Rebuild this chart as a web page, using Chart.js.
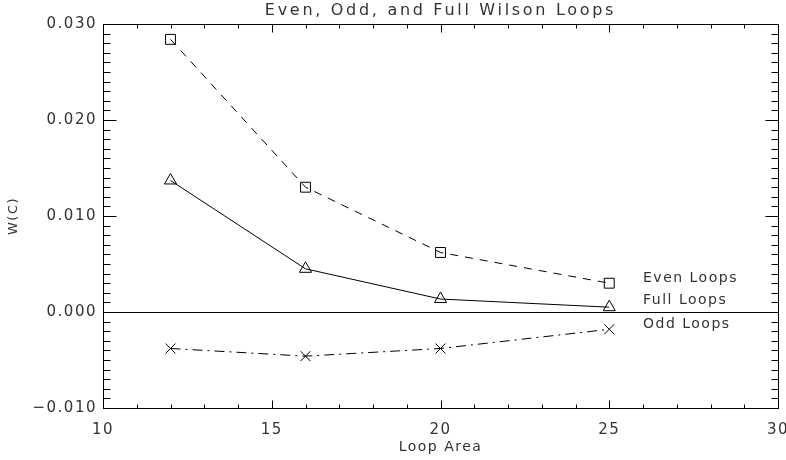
<!DOCTYPE html>
<html>
<head>
<meta charset="utf-8">
<script src="https://cdn.jsdelivr.net/npm/chart.js@4/dist/chart.umd.min.js"></script>
<style>
  html, body { margin: 0; padding: 0; background: #fff; }
  #wrap { width: 786px; height: 460px; }
</style>
</head>
<body>
<div id="wrap"><canvas id="wilson"></canvas></div>
<script>
'use strict';

// loop areas and measured Wilson loop values
var areas = [12, 16, 20, 25];
var evenLoops = [0.0284, 0.0130, 0.0062, 0.0030];
var fullLoops = [0.0137, 0.0045, 0.00135, 0.0005];
var oddLoops = [-0.0038, -0.0046, -0.0038, -0.0018];

var seriesNames = ['Even Loops', 'Full Loops', 'Odd Loops'];
// where the labels sit, in data units
var labelAreas = [26, 26, 26];
var labelValues = [0.00347, 0.00118, -0.00132];

var xTicks = [10, 15, 20, 25, 30];
var yTicks = [-0.010, 0.000, 0.010, 0.020, 0.030];

var chartTitle = 'Even, Odd, and Full Wilson Loops';

var ink = '#333';
var fontName = "'DejaVu Sans', sans-serif";

function pairs(xs, ys) {
	var out = [];
	for (var i = 0; i < xs.length; i++) {
		out.push({x: xs[i], y: ys[i]});
	}
	return out;
}

function isMajor(list, v) {
	for (var i = 0; i < list.length; i++) {
		if (Math.abs(list[i] - v) < 1e-9) return true;
	}
	return false;
}

function spacing(chart) {
	chart.ctx.letterSpacing = '1.5px';
}

// IDL style frame: box, inward ticks on all four sides, zero line, text labels
var idlFrame = {
	id: 'idlFrame',
	beforeInit: spacing,
	beforeUpdate: spacing,
	beforeLayout: spacing,
	beforeDraw: spacing,
	afterDatasetsDraw: function(chart) {
		var ctx = chart.ctx;
		var a = chart.chartArea;
		var xs = chart.scales.x;
		var ys = chart.scales.y;
		var i, p, len;

		ctx.save();
		ctx.strokeStyle = '#000';
		ctx.lineWidth = 1;
		ctx.setLineDash([]);

		var L = Math.round(a.left) + 0.5, R = Math.round(a.right) + 0.5;
		var T = Math.round(a.top) + 0.5, B = Math.round(a.bottom) + 0.5;
		ctx.strokeRect(L, T, R - L, B - T);

		ctx.beginPath();
		for (i = 0; i < xs.ticks.length; i++) {
			p = Math.round(xs.getPixelForValue(xs.ticks[i].value)) + 0.5;
			len = isMajor(xTicks, xs.ticks[i].value) ? 8 : 4;
			ctx.moveTo(p, B); ctx.lineTo(p, B - len);
			ctx.moveTo(p, T); ctx.lineTo(p, T + len);
		}
		for (i = 0; i < ys.ticks.length; i++) {
			p = Math.round(ys.getPixelForValue(ys.ticks[i].value)) + 0.5;
			len = isMajor(yTicks, ys.ticks[i].value) ? 13 : 7;
			ctx.moveTo(L, p); ctx.lineTo(L + len, p);
			ctx.moveTo(R, p); ctx.lineTo(R - len, p);
		}
		// zero line
		p = Math.round(ys.getPixelForValue(0)) + 0.5;
		ctx.moveTo(L, p); ctx.lineTo(R, p);
		ctx.stroke();

		ctx.fillStyle = ink;
		ctx.font = '14px ' + fontName;
		ctx.textAlign = 'left';
		ctx.textBaseline = 'middle';
		for (i = 0; i < seriesNames.length; i++) {
			ctx.fillText(seriesNames[i], xs.getPixelForValue(labelAreas[i]), ys.getPixelForValue(labelValues[i]));
		}

		// title centred over the plot box, like IDL does
		ctx.letterSpacing = '2.7px';
		ctx.font = '16px ' + fontName;
		ctx.textAlign = 'center';
		ctx.fillText(chartTitle, (a.left + a.right) / 2, 11);
		ctx.restore();
	}
};

var clear = 'rgba(0,0,0,0)';

new Chart(document.getElementById('wilson'), {
	type: 'line',
	data: {
		datasets: [
			{
				label: seriesNames[0],
				data: pairs(areas, evenLoops),
				borderColor: '#000',
				borderWidth: 1,
				borderDash: [8, 7],
				pointStyle: 'rect',
				pointRadius: 7,
				pointBorderColor: '#000',
				pointBackgroundColor: clear,
				pointBorderWidth: 1,
				fill: false,
				tension: 0
			},
			{
				label: seriesNames[1],
				data: pairs(areas, fullLoops),
				borderColor: '#000',
				borderWidth: 1,
				pointStyle: 'triangle',
				pointRadius: 7,
				pointBorderColor: '#000',
				pointBackgroundColor: clear,
				pointBorderWidth: 1,
				fill: false,
				tension: 0
			},
			{
				label: seriesNames[2],
				data: pairs(areas, oddLoops),
				borderColor: '#000',
				borderWidth: 1,
				borderDash: [10, 5, 2, 5],
				pointStyle: 'crossRot',
				pointRadius: 7,
				pointBorderColor: '#000',
				pointBackgroundColor: clear,
				pointBorderWidth: 1,
				fill: false,
				tension: 0
			}
		]
	},
	options: {
		responsive: true,
		maintainAspectRatio: false,
		animation: false,
		layout: { padding: { top: 24, right: 8, bottom: 0, left: 0 } },
		plugins: {
			legend: { display: false },
			tooltip: { enabled: false },
			title: { display: false }
		},
		scales: {
			x: {
				type: 'linear',
				min: 10,
				max: 30,
				grid: { display: false, drawTicks: false },
				border: { display: false },
				ticks: {
					stepSize: 1,
					autoSkip: false,
					maxRotation: 0,
					padding: 13,
					color: ink,
					font: { family: fontName, size: 15 },
					callback: function(v) { return isMajor(xTicks, v) ? String(v) : ''; }
				},
				title: {
					display: true,
					text: 'Loop Area',
					color: ink,
					font: { family: fontName, size: 14 },
					padding: { top: 0, bottom: 4 }
				},
				afterFit: function(scale) {
					scale.height = 52;
					scale.paddingLeft = 0;
					scale.paddingRight = 0;
				}
			},
			y: {
				type: 'linear',
				min: -0.010,
				max: 0.030,
				grid: { display: false, drawTicks: false },
				border: { display: false },
				ticks: {
					stepSize: 0.001,
					autoSkip: false,
					padding: 6,
					color: ink,
					font: { family: fontName, size: 15 },
					callback: function(v) {
						if (!isMajor(yTicks, v)) return '';
						var s = Math.abs(v).toFixed(3);
						return v < -1e-9 ? '\u2212' + s : s;
					}
				},
				title: {
					display: true,
					text: 'W(C)',
					color: ink,
					font: { family: fontName, size: 13 },
					padding: { top: 6, bottom: 0 }
				},
				afterFit: function(scale) {
					scale.width = 103;
					scale.paddingTop = 0;
					scale.paddingBottom = 0;
				}
			}
		}
	},
	plugins: [idlFrame]
});
</script>
</body>
</html>
